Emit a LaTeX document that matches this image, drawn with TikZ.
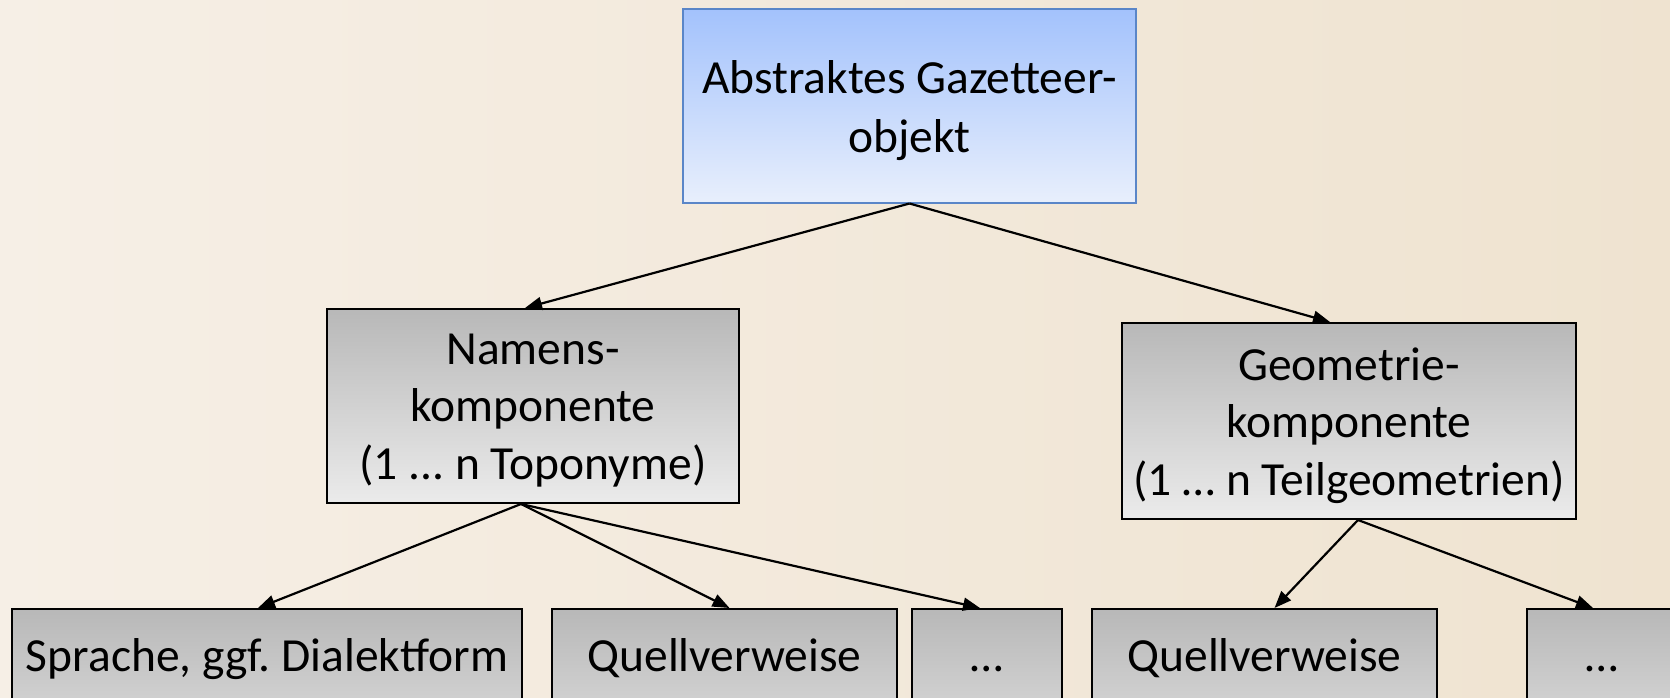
\documentclass[tikz,border=0pt]{standalone}
\usepackage{fontspec}
\setmainfont{Carlito}
\usetikzlibrary{arrows.meta,calc}
\frenchspacing
\definecolor{bgL}{HTML}{F6EFE6}
\definecolor{bgR}{HTML}{EFE3D0}
\definecolor{grayTop}{HTML}{B8B8B8}
\definecolor{grayBot}{HTML}{EBEBEB}
\definecolor{blueTop}{HTML}{A3C2FC}
\definecolor{blueBot}{HTML}{E8EFFC}
\definecolor{blueLine}{HTML}{5A86C8}
\newcommand{\lines}[1]{\begin{tabular}[t]{@{}c@{}}#1\end{tabular}}
\begin{document}
\begin{tikzpicture}[x=1pt,y=-1pt,
  boxfont/.style={font=\fontsize{47.5}{57.5}\selectfont},
  graybox/.style={draw=black, line width=2pt, top color=grayTop, bottom color=grayBot, boxfont, inner sep=0pt, anchor=north},
  topbox/.style={draw=blueLine, line width=1.5pt, top color=blueTop, bottom color=blueBot, font=\fontsize{47.5}{59}\selectfont, inner sep=0pt, anchor=north},
  lowbox/.style={graybox, text height=62pt, text depth=132pt},
  conn/.style={line width=2.2pt, -{Triangle[length=17pt,width=13pt]}}
]
\useasboundingbox (0,0) rectangle (1670,698);
\clip (0,0) rectangle (1670,698);
\fill[left color=bgL, right color=bgR] (0,0) rectangle (1670,698);

\node[topbox, minimum width=453, text height=84.5pt, text depth=109pt] (top) at (909.5,8.5) {\lines{Abstraktes Gazetteer-\\objekt}};
\node[graybox, minimum width=412, text height=55pt, text depth=139pt] (namen) at (533,308) {\lines{Namens-\\komponente\\(1 ... n Toponyme)}};
\node[graybox, minimum width=454, text height=57pt, text depth=139pt] (geo) at (1349,322) {\lines{Geometrie-\\komponente\\(1 … n Teilgeometrien)}};

\node[lowbox, minimum width=510] (spr) at (267,608) {Sprache, ggf. Dialektform};
\node[lowbox, minimum width=345] (q1) at (724.5,608) {Quellverweise};
\node[lowbox, minimum width=150] (d1) at (987,608) {…};
\node[lowbox, minimum width=345] (q2) at (1264.5,608) {Quellverweise};
\node[lowbox, minimum width=150] (d2) at (1602,608) {…};

\draw[conn] (top.south) -- ($(namen.north)+(-8,0)$);
\draw[conn] (top.south) -- ($(geo.north)+(-19,0)$);
\draw[conn] ($(namen.south)+(-12,0)$) -- ($(spr.north)+(-9,0)$);
\draw[conn] ($(namen.south)+(-12,0)$) -- ($(q1.north)+(5,0)$);
\draw[conn] ($(namen.south)+(-12,0)$) -- ($(d1.north)+(-7,0)$);
\draw[conn] ($(geo.south)+(9,0)$) -- ($(q2.north)+(10,0)$);
\draw[conn] ($(geo.south)+(9,0)$) -- ($(d2.north)+(-9,0)$);
\end{tikzpicture}
\end{document}
